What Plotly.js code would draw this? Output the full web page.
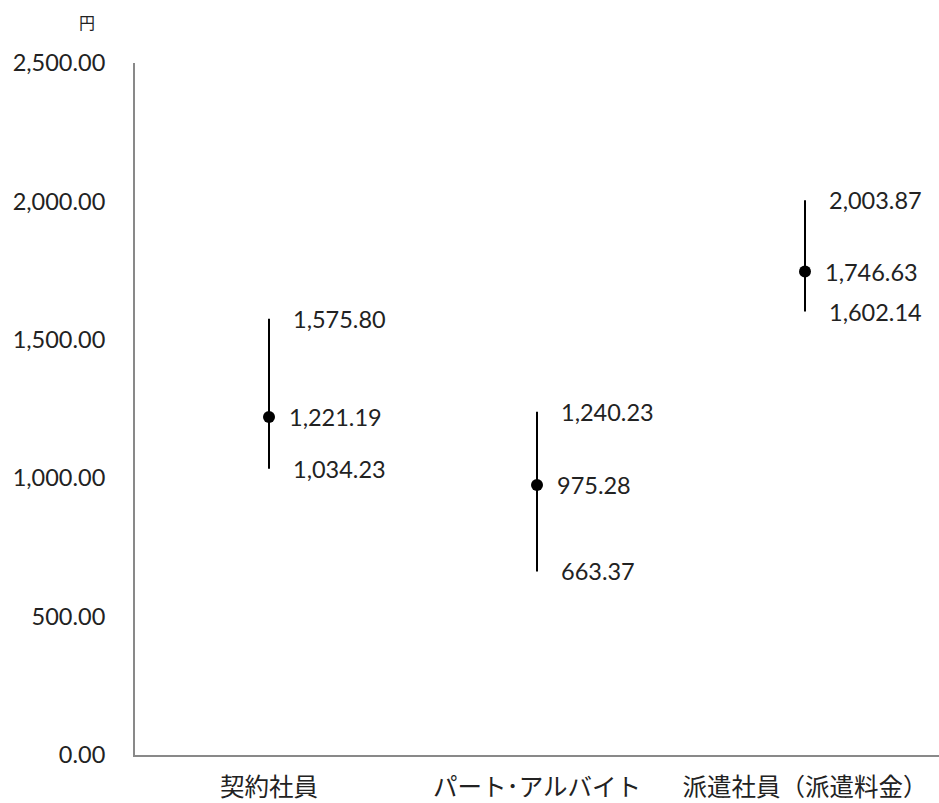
<!DOCTYPE html>
<html><head><meta charset="utf-8">
<script src="https://cdn.plot.ly/plotly-3.0.1.min.js"></script>
<style>html,body{margin:0;padding:0;background:#fff}</style>
</head><body>
<div id="chart" style="width:939px;height:803px"></div>
<script>
const categories = ["契約社員", "パート･アルバイト", "派遣社員（派遣料金）"];
const highs = [1575.80, 1240.23, 2003.87];
const mids = [1221.19, 975.28, 1746.63];
const lows = [1034.23, 663.37, 1602.14];
const tickVals = [0, 500, 1000, 1500, 2000, 2500];
const tickText = ["0.00", "500.00", "1,000.00", "1,500.00", "2,000.00", "2,500.00"];
const unitLabel = "円";

const fmt = v => v.toLocaleString("en-US", {minimumFractionDigits: 2, maximumFractionDigits: 2});
const numFont = {family: "Lato, 'Open Sans', sans-serif", size: 23.5, color: "#222"};

const trace = {
  type: "scatter", mode: "markers",
  x: categories, y: mids,
  marker: {color: "#000", size: 12},
  error_y: {
    type: "data", symmetric: false,
    array: highs.map((h, i) => h - mids[i]),
    arrayminus: lows.map((l, i) => mids[i] - l),
    color: "#000", thickness: 2, width: 0
  },
  hoverinfo: "skip", showlegend: false
};

const annotations = [];
categories.forEach((c, i) => {
  [[highs[i], 22], [mids[i], 18], [lows[i], 22]].forEach(([v, s]) => {
    annotations.push({x: c, y: v, xref: "x", yref: "y", text: fmt(v), showarrow: false,
      xanchor: "left", yanchor: "middle", xshift: s, font: numFont});
  });
});
annotations.push({
  xref: "x domain", yref: "y domain",
  x: (87 - 135) / 804, y: 1 + (63 - 22) / 692,
  xanchor: "center", yanchor: "middle",
  text: unitLabel, showarrow: false,
  font: {family: "'Noto Sans CJK JP', sans-serif", size: 16, color: "#222"}
});

const layout = {
  width: 939, height: 803,
  margin: {l: 135, r: 0, t: 63, b: 48, pad: 0},
  paper_bgcolor: "#fff", plot_bgcolor: "#fff",
  showlegend: false,
  xaxis: {
    type: "category", range: [-0.5, 2.5],
    showline: true, linecolor: "#898989", linewidth: 2,
    showgrid: false, zeroline: false, ticks: "",
    ticklabelstandoff: 10,
    tickfont: {family: "'Noto Sans CJK JP', sans-serif", size: 24.5, color: "#222"}
  },
  yaxis: {
    range: [0, 2500],
    tickvals: tickVals, ticktext: tickText,
    showline: true, linecolor: "#898989", linewidth: 2,
    showgrid: false, zeroline: false, ticks: "",
    ticklabelstandoff: 23,
    tickfont: numFont
  },
  annotations: annotations
};

Plotly.newPlot("chart", [trace], layout, {displayModeBar: false, staticPlot: true});
</script>
</body></html>
